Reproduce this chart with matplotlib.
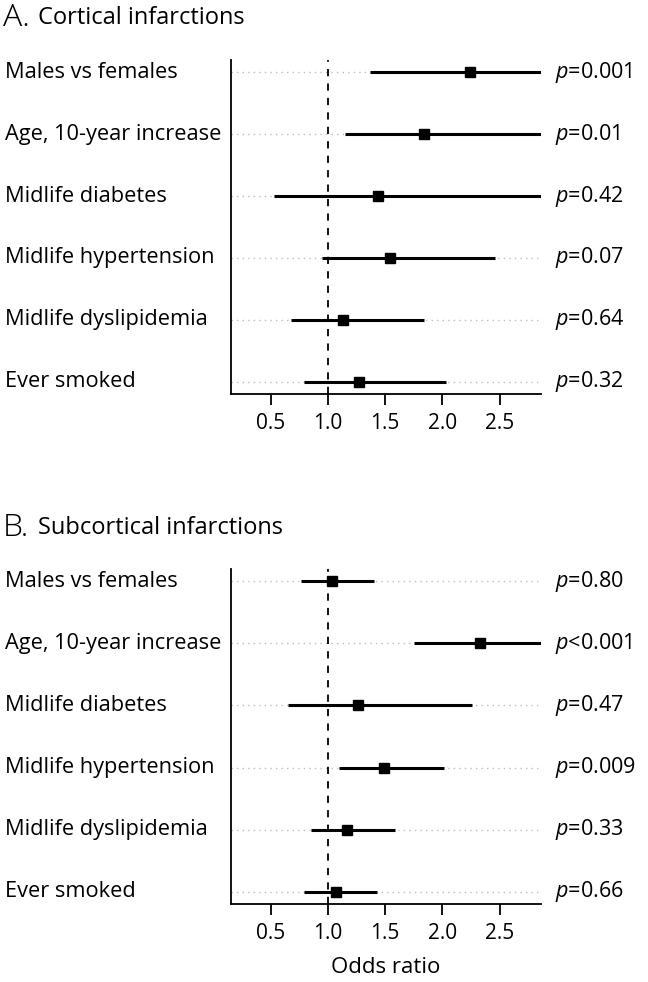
import matplotlib
matplotlib.use('Agg')
import matplotlib.pyplot as plt
import matplotlib.transforms as mtransforms

plt.rcParams['font.family'] = ['Open Sans', 'DejaVu Sans']
plt.rcParams['mathtext.fontset'] = 'custom'
plt.rcParams['mathtext.rm'] = 'Open Sans'
plt.rcParams['mathtext.it'] = 'Open Sans:italic'

labels = ["Males vs females", "Age, 10-year increase", "Midlife diabetes",
          "Midlife hypertension", "Midlife dyslipidemia", "Ever smoked"]

a_or = [2.24, 1.84, 1.44, 1.54, 1.13, 1.27]
a_lo = [1.37, 1.15, 0.53, 0.95, 0.68, 0.79]
a_hi = [3.65, 2.95, 3.90, 2.46, 1.84, 2.03]
a_p = ["=0.001", "=0.01", "=0.42", "=0.07", "=0.64", "=0.32"]

b_or = [1.04, 2.33, 1.26, 1.49, 1.17, 1.07]
b_lo = [0.77, 1.75, 0.65, 1.10, 0.85, 0.79]
b_hi = [1.40, 3.10, 2.26, 2.01, 1.59, 1.43]
b_p = ["=0.80", "<0.001", "=0.47", "=0.009", "=0.33", "=0.66"]

xticks = [0.5, 1.0, 1.5, 2.0, 2.5]
xticklabels = ["0.5", "1.0", "1.5", "2.0", "2.5"]

W, H = 648, 982
fig = plt.figure(figsize=(W / 100, H / 100), dpi=100)


def panel(rect, letter, title, orv, lo, hi, pv, title_y, xlabel=None):
    ax = fig.add_axes(rect)
    n = len(labels)
    ys = list(range(n))
    ax.set_xlim(0.155, 2.86)
    ax.set_ylim(n - 1 + 0.2, -0.2)
    for y in ys:
        ax.axhline(y, color='#bdbdbd', lw=1.0, ls=(0, (1, 3)), zorder=1)
    ax.axvline(1.0, color='black', lw=1.3, ls=(0, (4, 4)), zorder=2)
    for y, o, l, h in zip(ys, orv, lo, hi):
        ax.plot([l, h], [y, y], color='black', lw=2.2, solid_capstyle='butt', zorder=3)
        ax.plot([o], [y], marker='s', color='black', ms=7, zorder=4)
    for s in ['top', 'right']:
        ax.spines[s].set_visible(False)
    for s in ['left', 'bottom']:
        ax.spines[s].set_linewidth(1.3)
    ax.set_yticks([])
    ax.set_xticks(xticks)
    ax.set_xticklabels(xticklabels, fontsize=15)
    ax.tick_params(axis='x', length=8, width=1.3, pad=6)
    tr = mtransforms.blended_transform_factory(fig.transFigure, ax.transData)
    for y, lab, p in zip(ys, labels, pv):
        ax.text(5 / W, y, lab, transform=tr, ha='left', va='center', fontsize=15.7)
        ax.text(555 / W, y, r'$\mathit{p}$' + p, transform=tr, ha='left', va='center', fontsize=15.5)
    fig.text(3 / W, title_y, letter, ha='left', va='center', fontsize=23, fontweight='light')
    fig.text(38 / W, title_y, title, ha='left', va='center', fontsize=17)
    if xlabel:
        ax.set_xlabel(xlabel, fontsize=16, labelpad=9)
    return ax


ax_a = panel([231 / W, 1 - 394 / H, 310 / W, 334 / H], "A.", "Cortical infarctions",
             a_or, a_lo, a_hi, a_p, 1 - 18 / H)
ax_b = panel([231 / W, 1 - 904 / H, 310 / W, 335 / H], "B.", "Subcortical infarctions",
             b_or, b_lo, b_hi, b_p, 1 - 528 / H, xlabel="Odds ratio")

fig.savefig('out.png', dpi=100)
